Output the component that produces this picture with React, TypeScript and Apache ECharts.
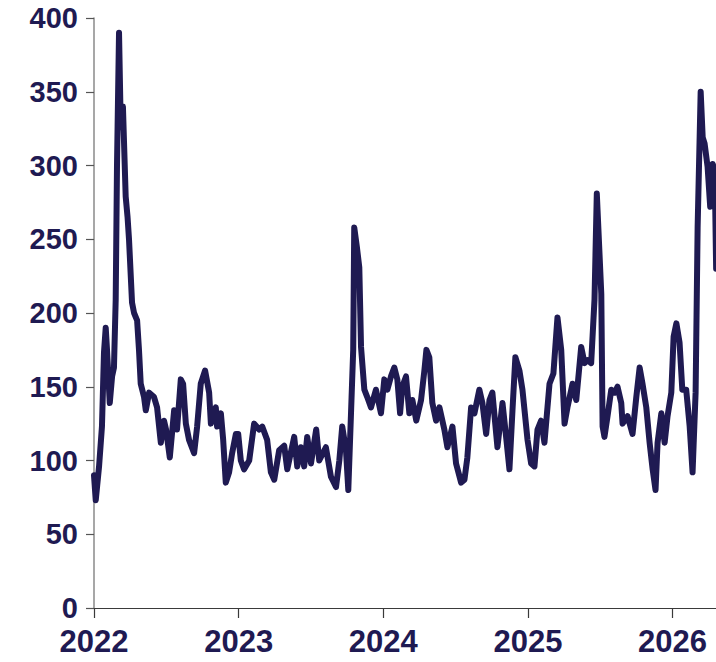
import React, { useEffect, useRef } from "react";
import * as echarts from "echarts";

// decimal year of each observation
const years: number[] = [
  2022.000, 2022.012, 2022.035, 2022.055, 2022.069, 2022.081, 2022.090, 2022.109, 2022.125, 2022.138,
  2022.150, 2022.159, 2022.173, 2022.185, 2022.200, 2022.219, 2022.232, 2022.242, 2022.263, 2022.277,
  2022.298, 2022.311, 2022.323, 2022.346, 2022.358, 2022.381, 2022.415, 2022.436, 2022.462, 2022.484,
  2022.498, 2022.524, 2022.554, 2022.574, 2022.600, 2022.616, 2022.635, 2022.657, 2022.692, 2022.713,
  2022.738, 2022.768, 2022.796, 2022.808, 2022.842, 2022.851, 2022.877, 2022.893, 2022.911, 2022.934,
  2022.955, 2022.981, 2022.997, 2023.015, 2023.038, 2023.073, 2023.107, 2023.142, 2023.163, 2023.197,
  2023.223, 2023.246, 2023.280, 2023.315, 2023.336, 2023.384, 2023.405, 2023.430, 2023.453, 2023.474,
  2023.500, 2023.536, 2023.557, 2023.603, 2023.638, 2023.673, 2023.696, 2023.716, 2023.742, 2023.758,
  2023.776, 2023.792, 2023.799, 2023.817, 2023.834, 2023.846, 2023.869, 2023.889, 2023.915, 2023.949,
  2023.984, 2024.007, 2024.028, 2024.053, 2024.076, 2024.097, 2024.116, 2024.131, 2024.157, 2024.180,
  2024.201, 2024.228, 2024.261, 2024.284, 2024.298, 2024.318, 2024.339, 2024.365, 2024.388, 2024.422,
  2024.443, 2024.478, 2024.503, 2024.538, 2024.561, 2024.581, 2024.607, 2024.630, 2024.664, 2024.685,
  2024.711, 2024.734, 2024.754, 2024.789, 2024.824, 2024.849, 2024.872, 2024.893, 2024.913, 2024.941,
  2024.962, 2024.997, 2025.022, 2025.045, 2025.066, 2025.091, 2025.114, 2025.149, 2025.176, 2025.204,
  2025.230, 2025.253, 2025.273, 2025.308, 2025.334, 2025.368, 2025.391, 2025.412, 2025.437, 2025.460,
  2025.476, 2025.507, 2025.516, 2025.529, 2025.550, 2025.576, 2025.599, 2025.619, 2025.645, 2025.654,
  2025.689, 2025.723, 2025.749, 2025.772, 2025.792, 2025.818, 2025.841, 2025.862, 2025.882, 2025.896,
  2025.922, 2025.945, 2025.965, 2025.991, 2026.007, 2026.026, 2026.048, 2026.067, 2026.094, 2026.118,
  2026.138, 2026.159, 2026.173, 2026.194, 2026.208, 2026.221, 2026.242, 2026.260, 2026.277, 2026.291,
  2026.301,
];

const values: number[] = [
  90, 73, 96, 123, 173, 190, 175, 139, 157, 163,
  209, 300, 390, 326, 340, 279, 265, 250, 207, 200,
  195, 175, 152, 143, 134, 146, 143, 136, 112, 127,
  121, 102, 134, 121, 155, 152, 125, 114, 105, 123,
  152, 161, 146, 125, 136, 123, 132, 114, 85, 92,
  105, 118, 118, 100, 94, 100, 125, 121, 123, 114,
  92, 87, 107, 110, 94, 116, 96, 109, 96, 116,
  98, 121, 100, 109, 89, 82, 100, 123, 107, 80,
  130, 175, 258, 245, 231, 177, 148, 143, 136, 148,
  132, 155, 148, 157, 163, 155, 132, 150, 157, 132,
  141, 127, 141, 161, 175, 170, 139, 127, 136, 121,
  109, 123, 98, 85, 87, 102, 136, 132, 148, 139,
  118, 141, 146, 109, 139, 116, 94, 134, 170, 161,
  148, 114, 98, 96, 121, 127, 112, 152, 159, 197,
  175, 125, 136, 152, 141, 177, 166, 168, 166, 209,
  281, 213, 123, 116, 130, 148, 146, 150, 139, 125,
  130, 118, 143, 163, 152, 136, 112, 94, 80, 112,
  132, 112, 130, 146, 184, 193, 180, 148, 148, 123,
  92, 146, 258, 350, 319, 315, 299, 272, 301, 297,
  230,
];

const yTicks = { min: 0, max: 400, interval: 50 };
const xRange = { min: 2022, max: 2026.3, interval: 1 };

const INK = "#1f1a52";
const FONT = "'Liberation Sans', Arial, Helvetica, sans-serif";

export default function App() {
  const ref = useRef<HTMLDivElement>(null);

  useEffect(() => {
    if (!ref.current) return;
    const chart = echarts.init(ref.current, undefined, { renderer: "svg" });
    const data = years.map((y, i) => [y, values[i]]);
    chart.setOption({
      animation: false,
      backgroundColor: "#ffffff",
      grid: { left: 94, right: 0, top: 18, bottom: 54, containLabel: false },
      xAxis: {
        type: "value",
        min: xRange.min,
        max: xRange.max,
        interval: xRange.interval,
        splitLine: { show: false },
        axisLine: { show: true, onZero: false, lineStyle: { color: "#3a3a3a", width: 1.2 } },
        axisTick: { show: true, length: 10, lineStyle: { color: "#3a3a3a", width: 1.2 } },
        axisLabel: {
          showMaxLabel: false,
          color: INK,
          fontFamily: FONT,
          fontWeight: "bold",
          fontSize: 31,
          lineHeight: 28,
          margin: 19,
          formatter: (v: number) => String(Math.round(v)),
        },
      },
      yAxis: {
        type: "value",
        min: yTicks.min,
        max: yTicks.max,
        interval: yTicks.interval,
        splitLine: { show: false },
        axisLine: { show: true, lineStyle: { color: "#8a8a8a", width: 1.5 } },
        axisTick: { show: true, length: 8, lineStyle: { color: "#555", width: 1.2 } },
        axisLabel: {
          color: INK,
          fontFamily: FONT,
          fontWeight: "bold",
          fontSize: 29,
          lineHeight: 24,
          margin: 16,
        },
      },
      series: [
        {
          type: "line",
          data,
          showSymbol: false,
          symbol: "none",
          clip: true,
          lineStyle: { color: INK, width: 6, cap: "round", join: "round" },
        },
      ],
    });
    return () => chart.dispose();
  }, []);

  return (
    <div
      ref={ref}
      style={{ position: "fixed", left: 0, top: 0, width: 716, height: 662 }}
    />
  );
}
